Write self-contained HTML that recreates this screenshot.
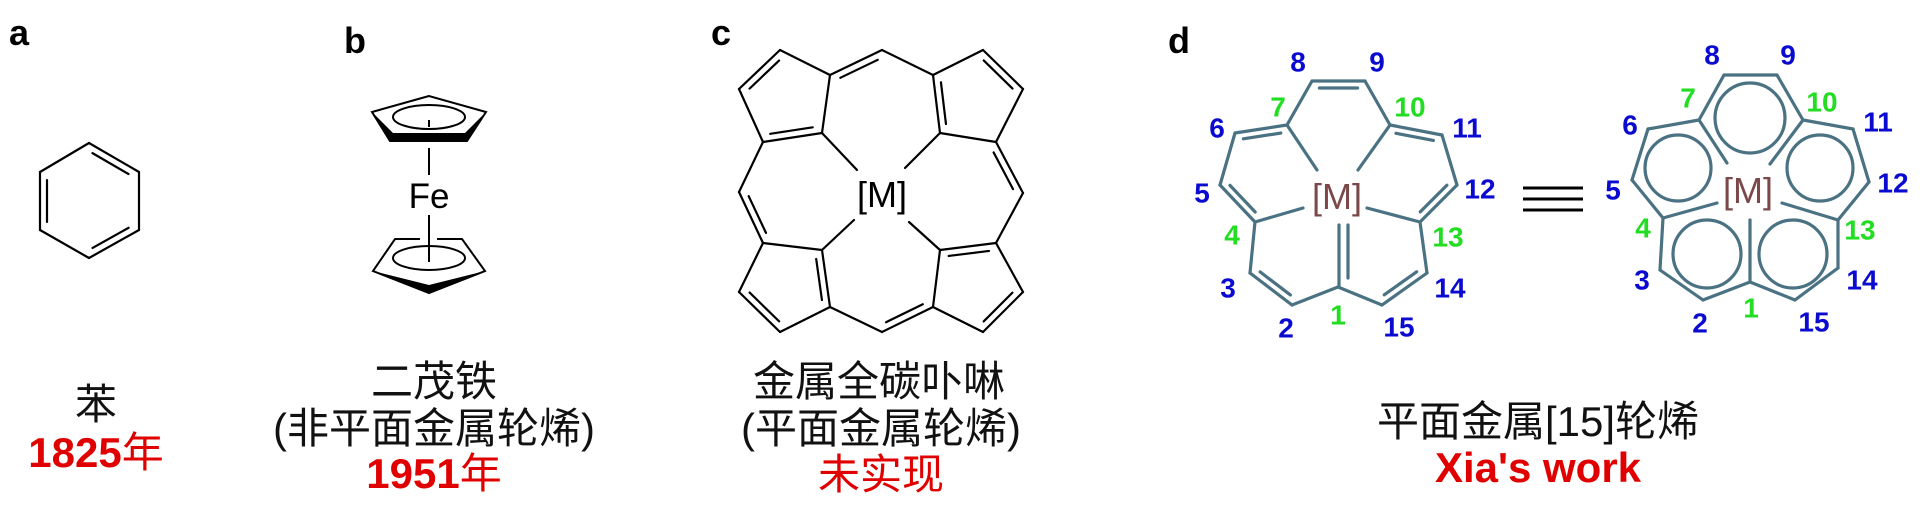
<!DOCTYPE html>
<html><head><meta charset="utf-8"><style>
html,body{margin:0;padding:0;background:#fff;width:1920px;height:509px;overflow:hidden}
svg{display:block}
.cn{font-family:"Liberation Sans","Noto Sans CJK SC",sans-serif;font-size:42px;fill:#111;text-anchor:middle}
.lab{font-family:"Liberation Sans",sans-serif;font-weight:bold;font-size:36px;fill:#000}
.b{font-family:"Liberation Sans",sans-serif;font-weight:bold;font-size:28px;fill:#0a0ad0;text-anchor:middle;dominant-baseline:central}
.g{font-family:"Liberation Sans",sans-serif;font-weight:bold;font-size:28px;fill:#22dd22;text-anchor:middle;dominant-baseline:central}
.red{fill:#e00000}
</style></head><body>
<svg id="s" width="1920" height="509" viewBox="0 0 1920 509" xmlns="http://www.w3.org/2000/svg">
<g id="bk" stroke="#000" stroke-width="2.2" fill="none" stroke-linecap="round" stroke-linejoin="round"></g>
<g id="bl" stroke="#4a7283" stroke-width="3.2" fill="none" stroke-linecap="round" stroke-linejoin="round"></g>
<!-- ferrocene -->
<g stroke="#000" stroke-width="2" fill="none">
<polygon points="429,96 372,112 390,141 467,141 486,112"/>
<ellipse cx="429" cy="117" rx="36" ry="12"/>
<line x1="429" y1="120" x2="429" y2="127"/>
<line x1="429" y1="148" x2="429" y2="175"/>
<line x1="429" y1="215" x2="429" y2="262"/>
<polyline points="420,239 395,239 373,271 429,293 485,271 462,239 437,239"/>
<ellipse cx="429" cy="258" rx="36" ry="12"/>
</g>
<polygon points="372,112 390,141 467,141 486,112 465,133 393,133" fill="#000"/>
<polygon points="373,271 429,293 485,271 429,285" fill="#000"/>
<text x="429" y="208" font-family="Liberation Sans" font-size="35" text-anchor="middle">Fe</text>
<!-- labels -->
<text class="lab" x="9" y="45">a</text>
<text class="lab" x="344" y="53">b</text>
<text class="lab" x="711" y="45">c</text>
<text class="lab" x="1168" y="53">d</text>
<text x="882" y="207" font-family="Liberation Sans" font-size="36" text-anchor="middle">[M]</text>
<text x="1337" y="209" font-family="Liberation Sans" font-size="36" text-anchor="middle" fill="#7a4848">[M]</text>
<text x="1748" y="203" font-family="Liberation Sans" font-size="36" text-anchor="middle" fill="#7a4848">[M]</text>
<!-- equivalence -->
<g stroke="#000" stroke-width="3"><line x1="1523" y1="188" x2="1583" y2="188"/><line x1="1523" y1="199" x2="1583" y2="199"/><line x1="1523" y1="210" x2="1583" y2="210"/></g>
<!-- numbering left -->
<text class="b" x="1298" y="62">8</text><text class="b" x="1377" y="62">9</text>
<text class="g" x="1278" y="107">7</text><text class="g" x="1410" y="107">10</text>
<text class="b" x="1217" y="128">6</text><text class="b" x="1467" y="128">11</text>
<text class="b" x="1202" y="193">5</text><text class="b" x="1480" y="189">12</text>
<text class="g" x="1232" y="235">4</text><text class="g" x="1448" y="237">13</text>
<text class="b" x="1228" y="288">3</text><text class="b" x="1450" y="288">14</text>
<text class="b" x="1286" y="328">2</text><text class="g" x="1338" y="315">1</text><text class="b" x="1399" y="327">15</text>
<!-- numbering right -->
<text class="b" x="1712" y="55">8</text><text class="b" x="1788" y="55">9</text>
<text class="g" x="1688" y="98">7</text><text class="g" x="1822" y="102">10</text>
<text class="b" x="1630" y="125">6</text><text class="b" x="1878" y="122">11</text>
<text class="b" x="1613" y="190">5</text><text class="b" x="1893" y="183">12</text>
<text class="g" x="1643" y="228">4</text><text class="g" x="1860" y="230">13</text>
<text class="b" x="1642" y="280">3</text><text class="b" x="1862" y="280">14</text>
<text class="b" x="1700" y="323">2</text><text class="g" x="1751" y="308">1</text><text class="b" x="1814" y="322">15</text>
<!-- captions -->
<text class="cn" x="96" y="419">苯</text>
<text class="cn red" x="96" y="467"><tspan font-weight="bold">1825</tspan>年</text>
<text class="cn" x="434" y="396">二茂铁</text>
<text class="cn" x="434" y="443">(非平面金属轮烯)</text>
<text class="cn red" x="434" y="488"><tspan font-weight="bold">1951</tspan>年</text>
<text class="cn" x="879" y="396">金属全碳卟啉</text>
<text class="cn" x="881" y="443">(平面金属轮烯)</text>
<text class="cn red" x="881" y="489">未实现</text>
<text class="cn" x="1538" y="436">平面金属[15]轮烯</text>
<text class="cn red" x="1538" y="482" font-weight="bold" font-size="34">Xia's work</text>
</svg>
<script>
var NS="http://www.w3.org/2000/svg";
function L(g,a,b){var e=document.createElementNS(NS,"line");e.setAttribute("x1",a[0]);e.setAttribute("y1",a[1]);e.setAttribute("x2",b[0]);e.setAttribute("y2",b[1]);document.getElementById(g).appendChild(e);}
function P(g,pts,close){for(var i=0;i<pts.length-(close?0:1);i++)L(g,pts[i],pts[(i+1)%pts.length]);}
function D(g,a,b,c,off,sh){off=off||7;sh=sh==null?0.14:sh;var dx=b[0]-a[0],dy=b[1]-a[1],len=Math.hypot(dx,dy),nx=-dy/len,ny=dx/len;var mx=(a[0]+b[0])/2,my=(a[1]+b[1])/2;if((c[0]-mx)*nx+(c[1]-my)*ny<0){nx=-nx;ny=-ny;}
L(g,[a[0]+dx*sh+nx*off,a[1]+dy*sh+ny*off],[b[0]-dx*sh+nx*off,b[1]-dy*sh+ny*off]);}
function C(g,x,y,r){var e=document.createElementNS(NS,"circle");e.setAttribute("cx",x);e.setAttribute("cy",y);e.setAttribute("r",r);document.getElementById(g).appendChild(e);}
// benzene
var bz=[[89,143],[139,172],[139,230],[89,258],[40,230],[40,172]],bc=[89,200];
P("bk",bz,true);D("bk",bz[0],bz[1],bc,7);D("bk",bz[2],bz[3],bc,7);D("bk",bz[4],bz[5],bc,7);
// porphyrin
var t=[[780,50],[739,89],[763,142],[822,133],[830,75]],tm=[882,50],
tr=[[933,75],[983,50],[1023,89],[996,142],[940,133]],rm=[1023,193],lm=[739,192],
b1=[[763,243],[822,250],[830,307],[780,332],[739,292]],bm=[882,332],
b2=[[940,250],[996,243],[1023,292],[983,332],[933,307]],M=[882,195];
P("bk",t,true);P("bk",tr,true);P("bk",b1,true);P("bk",b2,true);
P("bk",[t[4],tm,tr[0]]);P("bk",[t[2],lm,b1[0]]);P("bk",[tr[3],rm,b2[1]]);P("bk",[b1[2],bm,b2[4]]);
var tc=[787,100],trc=[975,100],b1c=[787,285],b2c=[977,285];
D("bk",t[0],t[1],tc);D("bk",t[2],t[3],tc);D("bk",t[4],tm,M);
D("bk",tr[0],tr[4],trc);D("bk",tr[1],tr[2],trc);D("bk",tr[3],rm,M);
D("bk",lm,b1[0],M);D("bk",b1[1],b1[2],b1c);D("bk",b1[3],b1[4],b1c);
D("bk",bm,b2[4],M);D("bk",b2[0],b2[1],b2c);D("bk",b2[2],b2[3],b2c);
L("bk",[822,133],[857,170]);L("bk",[940,133],[905,168]);L("bk",[822,250],[854,220]);L("bk",[940,250],[909,222]);
// left metallapentalene
var v={1:[1338,287],2:[1292,305],3:[1250,273],4:[1255,222],5:[1220,185],6:[1235,133],7:[1287,125],8:[1312,81],9:[1365,81],10:[1390,125],11:[1442,135],12:[1457,185],13:[1420,222],14:[1427,273],15:[1382,305]};
var ring=[];for(var i=1;i<=15;i++)ring.push(v[i]);P("bl",ring,true);
var cA=[1338,115],cB=[1262,172],cC=[1412,172],cD=[1298,258],cE=[1378,258];
D("bl",v[8],v[9],cA);D("bl",v[6],v[7],cB);D("bl",v[4],v[5],cB);D("bl",v[10],v[11],cC);D("bl",v[12],v[13],cC);D("bl",v[2],v[3],cD);D("bl",v[14],v[15],cE);
L("bl",v[7],[1317,170]);L("bl",v[10],[1358,170]);L("bl",v[4],[1303,208]);L("bl",v[13],[1367,208]);
L("bl",[1339,287],[1339,225]);L("bl",[1348,225],[1348,278]);
// right
var w={1:[1750,282],2:[1703,300],3:[1660,270],4:[1663,218],5:[1632,180],6:[1648,129],7:[1699,120],8:[1724,75],9:[1777,75],10:[1803,120],11:[1853,129],12:[1869,182],13:[1838,220],14:[1838,268],15:[1795,300]};
var r2=[];for(var i=1;i<=15;i++)r2.push(w[i]);P("bl",r2,true);
L("bl",w[7],[1727,163]);L("bl",w[10],[1770,164]);L("bl",w[4],[1717,203]);L("bl",w[13],[1782,203]);L("bl",w[1],[1750,220]);
C("bl",1750,118,35);C("bl",1678,168,33);C("bl",1820,168,33);C("bl",1707,254,34);C("bl",1793,254,34);
</script>
</body></html>
